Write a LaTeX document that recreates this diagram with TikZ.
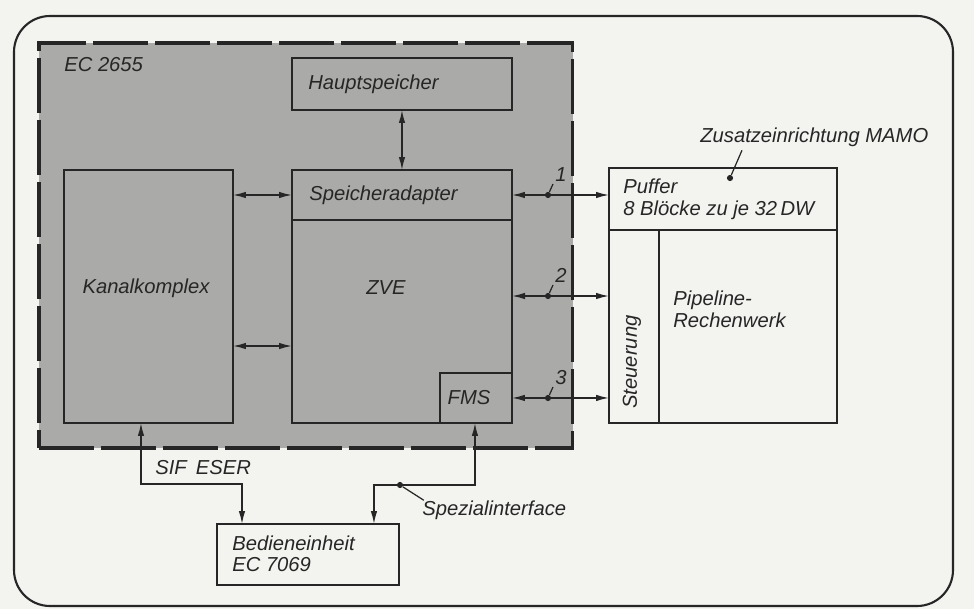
\documentclass[tikz,border=0pt]{standalone}
\usepackage{fontspec}
\setmainfont{Liberation Sans}
\usetikzlibrary{arrows.meta,positioning}

\definecolor{carta}{RGB}{243,243,240}
\definecolor{grigio}{RGB}{170,170,168}

\begin{document}
\begin{tikzpicture}[
    x=0.02cm, y=-0.02cm,   % coordinate in pixel, asse y verso il basso
    blocco/.style={draw=black!85, line width=1.1pt, anchor=north west, inner sep=0pt, outer sep=0pt},
    ecbox/.style={blocco, fill=grigio, line width=1.8pt, dash pattern=on 1.1cm off 0.14cm},
    testo/.style={font=\fontsize{11.5}{12.5}\selectfont\itshape, text=black!85, inner sep=0pt},
    freccia/.style={{Latex[length=2.6mm,width=1.3mm]}-{Latex[length=2.6mm,width=1.3mm]}, draw=black!85, line width=0.8pt},
    richiamo/.style={draw=black!85, line width=0.7pt},
    puntino/.style={circle, fill=black!85, inner sep=0pt, minimum size=3.5pt}
]

    % =========================================================================
    % 1. FONDO E CORNICE
    % =========================================================================
    \fill[carta] (0,0) rectangle (974,609);
    \useasboundingbox (0,0) rectangle (974,609);
    \draw[black!85, line width=1.2pt, rounded corners=0.72cm] (14,16) rectangle (953,606);

    % =========================================================================
    % 2. RECHNER EC 2655 (riquadro grigio tratteggiato)
    % =========================================================================
    \node[ecbox, minimum width=10.68cm, minimum height=8.1cm] (ec) at (39,43) {};
    \node[testo, anchor=west] (ectit) at ([xshift=0.5cm,yshift=-0.44cm]ec.north west) {EC 2655};

    % Blocchi interni
    \node[blocco, minimum width=4.4cm, minimum height=1.04cm] (haupt) at (292,58) {};
    \node[testo, right=0.32cm of haupt.west] {Hauptspeicher};

    \node[blocco, minimum width=4.4cm, minimum height=1.0cm] (sadapt) at (292,170) {};
    \node[testo, right=0.34cm of sadapt.west] {Speicheradapter};

    \node[blocco, minimum width=4.4cm, minimum height=4.06cm] (zve) at (sadapt.south west) {};
    \node[testo] at (386,288) {ZVE};

    \node[blocco, anchor=south east, minimum width=1.44cm, minimum height=1.0cm] (fms) at (zve.south east) {};
    \node[testo] at (469,398) {FMS};

    \node[blocco, minimum width=3.38cm, minimum height=5.06cm] (kanal) at (64,170) {};
    \node[testo] at (146,288) {Kanalkomplex};

    % Collegamenti interni
    \draw[freccia] (haupt.south) -- (sadapt.north);
    \draw[freccia] (kanal.east |- sadapt.west) -- (sadapt.west);
    \coordinate (basso) at (292,346);
    \draw[freccia] (kanal.east |- basso) -- (basso);

    % =========================================================================
    % 3. ZUSATZEINRICHTUNG MAMO
    % =========================================================================
    \node[blocco, minimum width=4.56cm, minimum height=1.24cm] (puffer) at (609,168) {};
    \node[blocco, minimum width=1.0cm, minimum height=3.86cm] (steuer) at (puffer.south west) {};
    \node[blocco, minimum width=3.56cm, minimum height=3.86cm] (pipe) at (steuer.north east) {};

    \node[testo, anchor=north west, align=left] at (623,179) {Puffer\\8 Blöcke zu je 32\,DW};
    \node[testo, rotate=90] at (632,362) {Steuerung};
    \node[testo, anchor=north west, align=left] at (673,291) {Pipeline-\\Rechenwerk};

    \node[testo, anchor=west] (zlabel) at (700,137) {Zusatzeinrichtung MAMO};
    \node[puntino] (zdot) at (730,178) {};
    \draw[richiamo] (zdot) -- ([xshift=0.84cm,yshift=-2pt]zlabel.south west);

    % Interfacce 1, 2, 3
    \draw[freccia] (sadapt.east) -- (sadapt.east -| puffer.west);
    \coordinate (c2) at (512,296);
    \draw[freccia] (c2) -- (c2 -| steuer.west);
    \draw[freccia] (fms.east) -- (fms.east -| steuer.west);
    \foreach \y/\n in {195/1, 296/2, 398/3} {
        \node[puntino] (p\n) at (548,\y) {};
        \draw[richiamo] (p\n) -- ++(5,-11) node[testo, anchor=south west, inner sep=1pt] (n\n) {\n};
    }

    % =========================================================================
    % 4. BEDIENEINHEIT EC 7069
    % =========================================================================
    \node[blocco, minimum width=3.64cm, minimum height=1.22cm] (bedien) at (217,524) {};
    \node[testo, anchor=north west, align=left] at (232,535) {Bedieneinheit\\EC 7069};

    \draw[freccia] ([xshift=-0.15cm]kanal.south) -- ++(0,61) -| ([xshift=0.5cm]bedien.north west);
    \node[testo, anchor=west] (sif) at (155,468) {SIF\hspace{0.45em}ESER};

    \draw[freccia] ([xshift=-0.74cm]fms.south east) -- ++(0,62) -| ([xshift=-0.5cm]bedien.north east);
    \node[testo, anchor=west] (spez) at (422,510) {Spezialinterface};
    \node[puntino] (sdot) at (400,485) {};
    \draw[richiamo] (sdot) -- ([xshift=1pt]spez.north west);

\end{tikzpicture}
\end{document}
